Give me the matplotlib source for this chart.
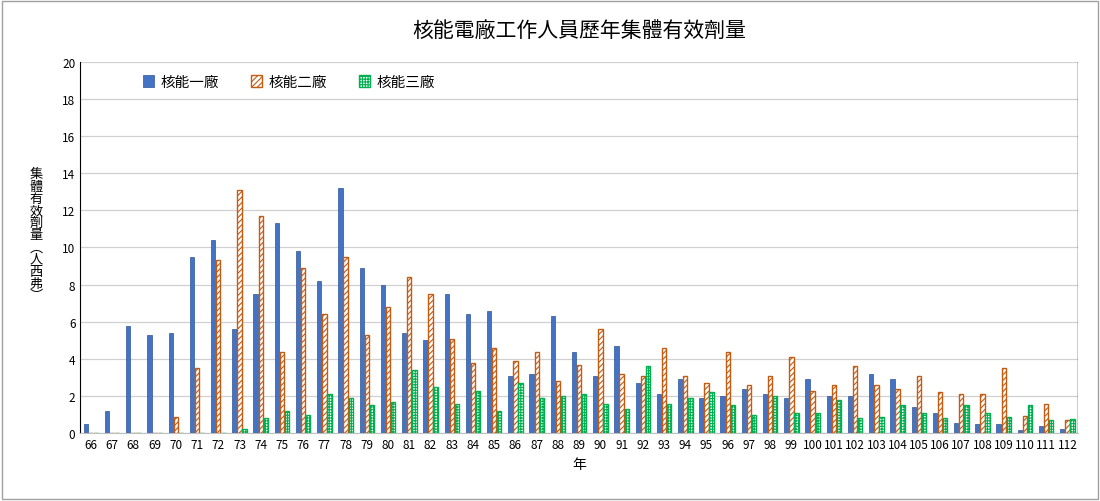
import matplotlib
matplotlib.use("Agg")
import matplotlib.pyplot as plt
from matplotlib import font_manager
import numpy as np
from matplotlib.patches import Rectangle

avail = {f.name for f in font_manager.fontManager.ttflist}
cjk = [n for n in ['Noto Sans CJK TC', 'Noto Sans CJK JP', 'Noto Sans CJK SC', 'Noto Sans CJK KR',
                   'Noto Serif CJK TC', 'Noto Sans TC'] if n in avail]
plt.rcParams['font.family'] = cjk + ['DejaVu Sans']
plt.rcParams['hatch.linewidth'] = 0.8

years = [str(y) for y in range(66, 113)]
plant1 = [0.5,1.2,5.8,5.3,5.4,9.5,10.4,5.6,7.5,11.3,9.8,8.2,13.2,8.9,8.0,5.4,5.0,7.5,6.4,6.6,3.1,3.2,6.3,4.4,3.1,4.7,2.7,2.1,2.9,1.9,2.0,2.4,2.1,1.9,2.9,2.0,2.0,3.2,2.9,1.4,1.1,0.55,0.5,0.5,0.2,0.4,0.25]
plant2 = [0,0,0,0,0.9,3.5,9.3,13.1,11.7,4.4,8.9,6.4,9.5,5.3,6.8,8.4,7.5,5.1,3.8,4.6,3.9,4.4,2.8,3.7,5.6,3.2,3.1,4.6,3.1,2.7,4.4,2.6,3.1,4.1,2.3,2.6,3.6,2.6,2.4,3.1,2.2,2.1,2.1,3.5,0.95,1.6,0.7]
plant3 = [0,0,0,0,0,0,0,0.25,0.8,1.2,1.0,2.1,1.9,1.5,1.7,3.4,2.5,1.6,2.3,1.2,2.7,1.9,2.0,2.1,1.6,1.3,3.6,1.6,1.9,2.2,1.5,1.0,2.0,1.1,1.1,1.8,0.8,0.9,1.5,1.1,0.8,1.5,1.1,0.9,1.5,0.7,0.75]
series_names = ['核能一廠', '核能二廠', '核能三廠']

fig = plt.figure(figsize=(11, 5.02), dpi=100)
ax = fig.add_axes([0.073, 0.135, 0.907, 0.74])
x = np.arange(len(years))
w = 0.24
ax.bar(x - w, plant1, w*0.85, color='#4472C4', edgecolor='#2F5597', linewidth=0.5, label=series_names[0], zorder=3)
ax.bar(x, plant2, w*0.85, color='white', edgecolor='#C55A11', hatch='//////', linewidth=1.0, label=series_names[1], zorder=3)
ax.bar(x + w, plant3, w*0.85, color='white', edgecolor='#00B050', hatch='++++++', linewidth=1.0, label=series_names[2], zorder=3)

ax.set_xlim(-0.5, len(years) - 0.5)
ax.set_ylim(0, 20)
ax.set_yticks(range(0, 21, 2))
ax.set_xticks(x)
ax.set_xticklabels(years, fontsize=8.5)
ax.tick_params(axis='y', labelsize=8.5, length=0)
ax.tick_params(axis='x', length=0)
ax.grid(axis='y', color='#D0D0D0', linewidth=0.9, zorder=0)
for s in ['top', 'right']:
    ax.spines[s].set_visible(False)
ax.spines['left'].set_color('black')
ax.spines['bottom'].set_color('#BFBFBF')
ax.axvline(len(years) - 0.5, color='black', linewidth=1.0)

ax.set_title('核能電廠工作人員歷年集體有效劑量', fontsize=15, pad=18)
ax.set_xlabel('年', fontsize=10)
fig.text(0.033, 0.53, '集\n體\n有\n效\n劑\n量\n︵\n人\n西\n弗\n︶', fontsize=9.5, ha='center', va='center', linespacing=0.92)
ax.legend(loc='upper left', bbox_to_anchor=(0.05, 1.0), ncol=3, frameon=False, fontsize=10.5,
          handlelength=0.7, handleheight=0.9, columnspacing=2.2, handletextpad=0.5)

fig.patches.append(Rectangle((0.002, 0.003), 0.996, 0.994, transform=fig.transFigure,
                             fill=False, edgecolor='#A0A0A0', linewidth=1.0))
fig.savefig('out.png', dpi=100)
